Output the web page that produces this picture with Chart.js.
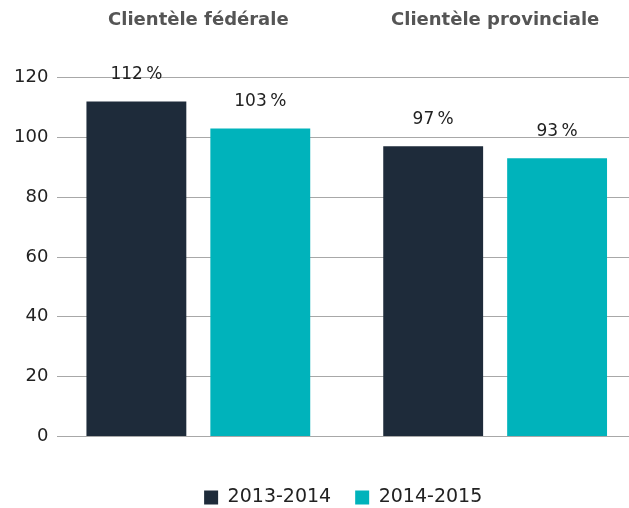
<!DOCTYPE html>
<html lang="fr">
<head>
  <meta charset="UTF-8">
  <title>Clientèle</title>
  <script src="https://cdn.jsdelivr.net/npm/chart.js"></script>
  <style>
    body {
      margin: 0;
      background: #ffffff;
    }
    #chart-container {
      width: 629px;
      height: 508px;
    }
  </style>
</head>
<body>
<div id="chart-container">
  <canvas id="clientChart"></canvas>
</div>
<script>
  const categories = ["Clientèle fédérale", "Clientèle provinciale"];
  const seriesNames = ["2013-2014", "2014-2015"];
  const values2013 = [112, 97];
  const values2014 = [103, 93];
  const yTicks = [0, 20, 40, 60, 80, 100, 120];

  const navy = '#1e2b3a';
  const teal = '#00b3bb';
  const fontName = "'DejaVu Sans', sans-serif";

  // category i sits at x = i + 1 on a linear axis, so the groups can be placed freely
  const toPoints = vals => vals.map((v, i) => ({ x: i + 1, y: v }));

  // writes "112 %" above each bar
  const barLabels = {
    id: 'barLabels',
    afterDatasetsDraw(chart) {
      const ctx = chart.ctx;
      ctx.save();
      ctx.font = '17px ' + fontName;
      ctx.fillStyle = '#222222';
      ctx.textAlign = 'center';
      ctx.textBaseline = 'middle';
      chart.data.datasets.forEach((ds, i) => {
        chart.getDatasetMeta(i).data.forEach((bar, j) => {
          ctx.fillText(ds.data[j].y + '\u202f%', bar.x, bar.y - 27);
        });
      });
      ctx.restore();
    }
  };

  new Chart(document.getElementById('clientChart'), {
    type: 'bar',
    data: {
      datasets: [
        { label: seriesNames[0], data: toPoints(values2013), backgroundColor: navy },
        { label: seriesNames[1], data: toPoints(values2014), backgroundColor: teal }
      ]
    },
    options: {
      responsive: true,
      maintainAspectRatio: false,
      animation: false,
      datasets: {
        bar: { categoryPercentage: 0.835, barPercentage: 0.806 }
      },
      layout: { padding: { top: -36, right: 0, left: 5, bottom: -9 } },
      scales: {
        x: {
          type: 'linear',
          position: 'top',
          offset: false,
          min: 0.525,
          max: 2.451,
          afterBuildTicks: axis => { axis.ticks = categories.map((c, i) => ({ value: i + 1 })); },
          // the labels sit well inside the area, no need to reserve room on the right
          afterFit: axis => { axis.paddingRight = 0; },
          grid: { display: false, drawTicks: false },
          border: { display: false },
          ticks: {
            color: '#555555',
            padding: 46,
            callback: v => categories[v - 1],
            font: { family: fontName, size: 18, weight: 'bold' }
          }
        },
        y: {
          min: 0,
          max: 120,
          afterBuildTicks: axis => { axis.ticks = yTicks.map(v => ({ value: v })); },
          grid: { color: '#a8a8a8', lineWidth: 1, drawTicks: false },
          border: { display: false },
          ticks: {
            color: '#222222',
            padding: 9,
            font: { family: fontName, size: 18 }
          }
        }
      },
      plugins: {
        legend: {
          position: 'bottom',
          fullSize: false,
          title: { display: true, text: '', padding: { top: 0, bottom: 18 }, font: { size: 8 } },
          labels: {
            color: '#222222',
            boxWidth: 14,
            boxHeight: 14,
            padding: 24,
            font: { family: fontName, size: 19 }
          }
        },
        tooltip: { enabled: false }
      }
    },
    plugins: [barLabels]
  });
</script>
</body>
</html>
